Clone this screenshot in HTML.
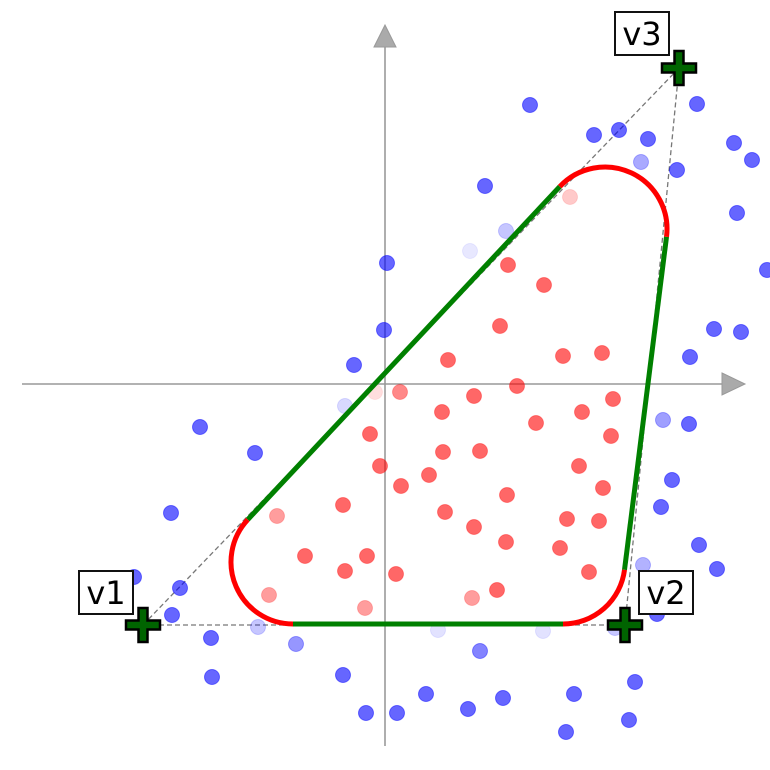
<!DOCTYPE html>
<html><head><meta charset="utf-8"><style>
html,body{margin:0;padding:0;background:#fff}
svg{display:block}
text{font-family:"DejaVu Sans","Liberation Sans",sans-serif}
</style></head><body>
<svg id="chart" width="770" height="770" viewBox="0 0 770 770" xmlns="http://www.w3.org/2000/svg">
<g id="axes">
<line x1="22" y1="384" x2="728" y2="384" stroke="#999" stroke-width="1.6"/>
<polygon points="722,373 745,384 722,395" fill="#aaa" stroke="#999"/>
<line x1="385" y1="746" x2="385" y2="44" stroke="#999" stroke-width="1.6"/>
<polygon points="374,47 385,25 396,47" fill="#aaa" stroke="#999"/>
</g>
<g id="tri"></g>
<g id="pts"></g>
<g id="shape"></g>
<g id="verts"></g>
</svg>
<script>
const blueX=[1.45,2.09,2.34,2.63,3.12,3.49,3.67,2.92,3.52,3.82,1.00,0.02,-0.01,-0.31,3.29,3.56,3.05,3.04,-1.85,-1.30,-2.14,2.87,2.76,3.14,3.32,-2.51,-2.05,-2.13,2.72,-1.74,-1.73,-0.42,0.41,0.83,1.18,1.89,2.50,-0.19,0.12,2.44,1.81,0.95,2.56,1.21,0.85,-0.40,2.78,-1.27,0.53,1.58,2.30,2.58,-0.89];
const blueY=[2.79,2.49,2.54,2.45,2.80,2.41,2.24,2.14,1.71,1.14,1.98,1.21,0.54,0.19,0.55,0.52,0.27,-0.40,-0.43,-0.69,-1.29,-0.96,-1.23,-1.61,-1.85,-1.93,-2.04,-2.31,-2.30,-2.54,-2.93,-2.91,-3.10,-3.25,-3.14,-3.10,-2.98,-3.29,-3.29,-3.36,-3.48,-2.67,2.22,1.53,1.33,-0.22,-0.36,-2.43,-2.46,-2.47,-2.44,-1.81,-2.60];
const blueA=[.8,.8,.8,.8,.8,.8,.8,.8,.8,.8,.8,.8,.8,.8,.8,.8,.8,.8,.8,.8,.8,.8,.8,.8,.8,.8,.8,.8,.8,.8,.8,.8,.8,.8,.8,.8,.8,.8,.8,.8,.8,.65,.45,.3,.12,.2,.5,.3,.15,.15,.3,.4,.55];
const redX=[1.59,1.23,1.15,0.63,1.78,2.17,1.32,0.89,0.15,2.28,0.57,1.51,1.97,2.26,-0.15,0.58,0.95,-0.05,0.44,0.16,1.94,1.22,2.18,-0.42,0.60,0.89,1.82,2.14,1.21,1.75,-0.80,-0.18,-0.40,0.11,2.04,1.12,1.85,-0.10,-1.08,-1.16,0.87,-0.20];
const redY=[0.99,1.19,0.58,0.24,0.28,0.31,-0.02,-0.12,-0.08,-0.15,-0.28,-0.39,-0.28,-0.52,-0.50,-0.68,-0.67,-0.82,-0.91,-1.02,-0.82,-1.11,-1.04,-1.21,-1.28,-1.43,-1.35,-1.37,-1.58,-1.64,-1.72,-1.72,-1.87,-1.90,-1.88,-2.06,1.87,-0.08,-1.32,-2.11,-2.14,-2.24];
const redA=[.7,.7,.7,.7,.7,.7,.7,.7,.55,.7,.7,.7,.7,.7,.7,.7,.7,.7,.7,.7,.7,.7,.7,.7,.7,.7,.7,.7,.7,.7,.7,.7,.7,.7,.7,.7,.25,.15,.45,.45,.45,.45];
const vertX=[-2.42,2.40,2.94];
const vertY=[-2.41,-2.41,3.16];
const vertLabels=["v1","v2","v3"];
const centerX=[-0.92,1.78,2.20];
const centerY=[-1.78,-1.78,1.55];
const radius=[0.62];

const NS="http://www.w3.org/2000/svg";
const sx=v=>385+v*100, sy=v=>384-v*100;
function mk(tag,attrs,parent){const e=document.createElementNS(NS,tag);for(const k in attrs)e.setAttribute(k,attrs[k]);parent.appendChild(e);return e;}

const tri=document.getElementById('tri');
for(let i=0;i<3;i++){const j=(i+1)%3;
 const l=mk('line',{x1:sx(vertX[i]),y1:sy(vertY[i]),x2:sx(vertX[j]),y2:sy(vertY[j]),stroke:'#777','stroke-width':1.3,'stroke-dasharray':'5,3'},tri);
 
 
}
const pts=document.getElementById('pts');
for(let i=0;i<blueX.length;i++){
 const c=mk('circle',{cx:sx(blueX[i]),cy:sy(blueY[i]),r:7.5,fill:'#0000ff','fill-opacity':blueA[i]*0.75,stroke:'#0000ff','stroke-opacity':blueA[i]*0.6,'stroke-width':1},pts);
 
 
}
for(let i=0;i<redX.length;i++){
 const c=mk('circle',{cx:sx(redX[i]),cy:sy(redY[i]),r:7.5,fill:'#ff0000','fill-opacity':redA[i]*0.85,stroke:'#ff0000','stroke-opacity':redA[i]*0.5,'stroke-width':1},pts);
 
 
}
const shape=document.getElementById('shape');
const r=radius[0];
const tp=[];
for(let i=0;i<3;i++){const j=(i+1)%3;
 const dx=centerX[j]-centerX[i],dy=centerY[j]-centerY[i],L=Math.hypot(dx,dy);
 const nx=dy/L,ny=-dx/L;
 const a=[centerX[i]+r*nx,centerY[i]+r*ny],b=[centerX[j]+r*nx,centerY[j]+r*ny];
 tp.push([a,b]);
 const l=mk('line',{x1:sx(a[0]),y1:sy(a[1]),x2:sx(b[0]),y2:sy(b[1]),stroke:'#008000','stroke-width':5,'stroke-linecap':'butt'},shape);
 
 
}
for(let i=0;i<3;i++){const p=(i+2)%3;
 const s=tp[p][1],e=tp[i][0];const R=r*100;
 const path=mk('path',{d:`M${sx(s[0])},${sy(s[1])} A${R},${R} 0 0 0 ${sx(e[0])},${sy(e[1])}`,fill:'none',stroke:'#ff0000','stroke-width':5},shape);
 
 
}
const verts=document.getElementById('verts');
const boxOff=[[-64,-54],[14,-54],[-64,-56]];
for(let i=0;i<3;i++){
 const x=sx(vertX[i]),y=sy(vertY[i]);
 const g=mk('g',{},verts);
 
 
 mk('path',{d:`M${x-17},${y-4.5}h12.5v-12.5h9v12.5h12.5v9h-12.5v12.5h-9v-12.5h-12.5z`,fill:'#006400',stroke:'#000','stroke-width':2.5},g);
 const bx=x+boxOff[i][0],by=y+boxOff[i][1];
 const rect=mk('rect',{x:bx,y:by,width:54,height:43,fill:'#fff',stroke:'#111','stroke-width':2},g);
 
 
 const t=mk('text',{x:bx+27,y:by+33,'text-anchor':'middle','font-size':32,fill:'#000'},g);
 t.textContent=vertLabels[i];
 
 
}
</script>
</body></html>
